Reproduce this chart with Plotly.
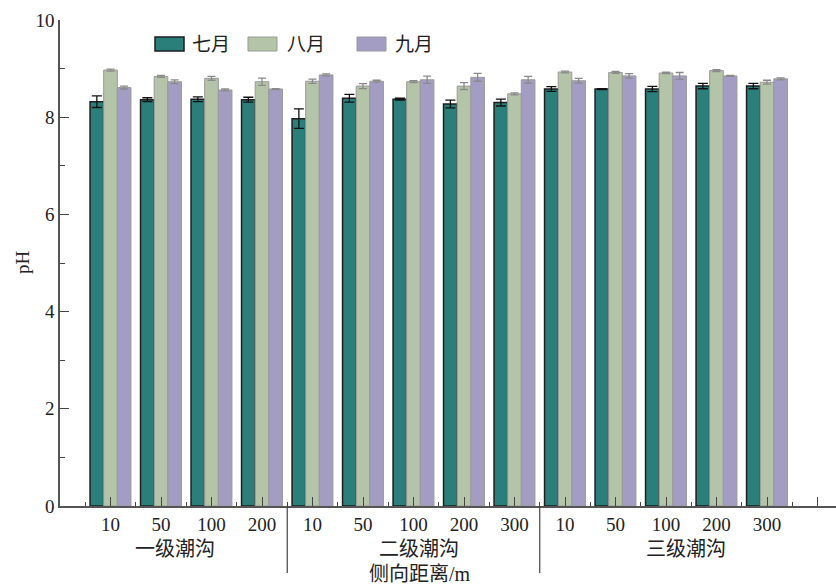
import plotly.graph_objects as go

# Lateral distance (m) for each sampling site, grouped by creek order
categories = ["10", "50", "100", "200",
              "10", "50", "100", "200", "300",
              "10", "50", "100", "200", "300"]
groups = ["一级潮沟", "二级潮沟", "三级潮沟"]
months = ["七月", "八月", "九月"]

# Soil pH means and standard errors per month
ph_jul = [8.32, 8.36, 8.37, 8.36, 7.97, 8.39, 8.37, 8.27, 8.30, 8.58, 8.58, 8.58, 8.64, 8.64]
err_jul = [0.12, 0.04, 0.05, 0.05, 0.20, 0.08, 0.02, 0.08, 0.07, 0.05, 0.01, 0.055, 0.055, 0.055]
ph_aug = [8.97, 8.84, 8.80, 8.73, 8.74, 8.64, 8.73, 8.64, 8.48, 8.93, 8.92, 8.91, 8.96, 8.72]
err_aug = [0.02, 0.02, 0.04, 0.075, 0.045, 0.05, 0.02, 0.07, 0.02, 0.02, 0.02, 0.015, 0.02, 0.04]
ph_sep = [8.61, 8.73, 8.56, 8.58, 8.87, 8.74, 8.77, 8.82, 8.77, 8.75, 8.85, 8.85, 8.85, 8.79]
err_sep = [0.03, 0.04, 0.02, 0.01, 0.02, 0.02, 0.075, 0.08, 0.07, 0.05, 0.045, 0.07, 0.01, 0.02]

W, H = 836, 586
ML, MR, MT, MB = 60, 0, 20, 80
PW, PH = W - ML - MR, H - MT - MB
SLOT = 50.5  # pixels per category slot

FONT = "Liberation Serif, Noto Sans CJK SC, serif"
colors = ["#2b7f7b", "#b4c4a8", "#a39dc4"]
edges = ["#1e1e1e", "#9a9a9a", "#9a9a9a"]
err_colors = ["#111111", "#8a8a8a", "#8a8a8a"]

x = list(range(len(categories)))
series = [(ph_jul, err_jul), (ph_aug, err_aug), (ph_sep, err_sep)]

fig = go.Figure()
for i, (vals, errs) in enumerate(series):
    fig.add_trace(go.Bar(
        x=x, y=vals, name=months[i],
        marker=dict(color=colors[i], line=dict(color=edges[i], width=1.5 if i == 0 else 1)),
        error_y=dict(type="data", array=errs, visible=True,
                     color=err_colors[i], thickness=1.3, width=5 if i == 0 else 4),
        showlegend=False,
    ))


def px_x(p):
    return (p - ML) / PW


def px_y(p):
    return (H - MB - p) / PH


shapes = []
annotations = []

# Legend swatches and labels
legend_pos = [(155, 190), (248, 285), (357, 393)]
for i, (bx, tx) in enumerate(legend_pos):
    shapes.append(dict(type="rect", xref="paper", yref="paper",
                       x0=px_x(bx), x1=px_x(bx + 29), y0=px_y(51), y1=px_y(37),
                       fillcolor=colors[i], line=dict(color=edges[i], width=1.5 if i == 0 else 1)))
    annotations.append(dict(text=months[i], xref="paper", yref="paper",
                            x=px_x(tx), y=px_y(44), xanchor="left", yanchor="middle",
                            showarrow=False, font=dict(family=FONT, size=19, color="#222")))

# Separators between creek orders
for sx in [3.5, 8.5]:
    shapes.append(dict(type="line", xref="x", yref="paper", x0=sx, x1=sx,
                       y0=0, y1=px_y(573), line=dict(color="#444", width=1.2)))

# Creek order labels
for g, gx in zip(groups, [175, 419, 686]):
    annotations.append(dict(text=g, xref="paper", yref="paper", x=px_x(gx), y=px_y(549),
                            xanchor="center", yanchor="middle", showarrow=False,
                            font=dict(family=FONT, size=20, color="#222")))

annotations.append(dict(text="侧向距离/m", xref="paper", yref="paper", x=px_x(420), y=px_y(574),
                        xanchor="center", yanchor="middle", showarrow=False,
                        font=dict(family=FONT, size=20, color="#222")))
annotations.append(dict(text="pH", xref="paper", yref="paper", x=px_x(22), y=px_y(262),
                        xanchor="center", yanchor="middle", textangle=-90, showarrow=False,
                        font=dict(family=FONT, size=19, color="#222")))

fig.update_layout(
    width=W, height=H,
    margin=dict(l=ML, r=MR, t=MT, b=MB),
    paper_bgcolor="white", plot_bgcolor="white",
    barmode="group", bargap=0.19, bargroupgap=0,
    shapes=shapes, annotations=annotations,
    font=dict(family=FONT, size=19, color="#222"),
)

fig.update_xaxes(
    range=[-1, -1 + PW / SLOT],
    tickmode="array", tickvals=list(range(len(categories) + 1)),
    ticktext=categories + [""],
    ticks="inside", ticklen=9, tickwidth=1.2, tickcolor="#444",
    showline=True, linecolor="#555", linewidth=1.5,
    showgrid=False, zeroline=False,
    tickfont=dict(family=FONT, size=19, color="#222"),
    minor=dict(tickmode="array", tickvals=[k - 0.5 for k in range(len(categories) + 2)],
               ticks="inside", ticklen=4, tickwidth=1.2, tickcolor="#444", showgrid=False),
)

fig.update_yaxes(
    range=[0, 10], tickmode="array", tickvals=[0, 2, 4, 6, 8, 10],
    ticks="inside", ticklen=9, tickwidth=1.2, tickcolor="#444",
    showline=True, linecolor="#555", linewidth=1.5,
    showgrid=False, zeroline=False,
    tickfont=dict(family=FONT, size=19, color="#222"),
    minor=dict(tickmode="array", tickvals=[1, 3, 5, 7, 9],
               ticks="inside", ticklen=5, tickwidth=1.2, tickcolor="#444", showgrid=False),
)

fig.write_html("out.html")
